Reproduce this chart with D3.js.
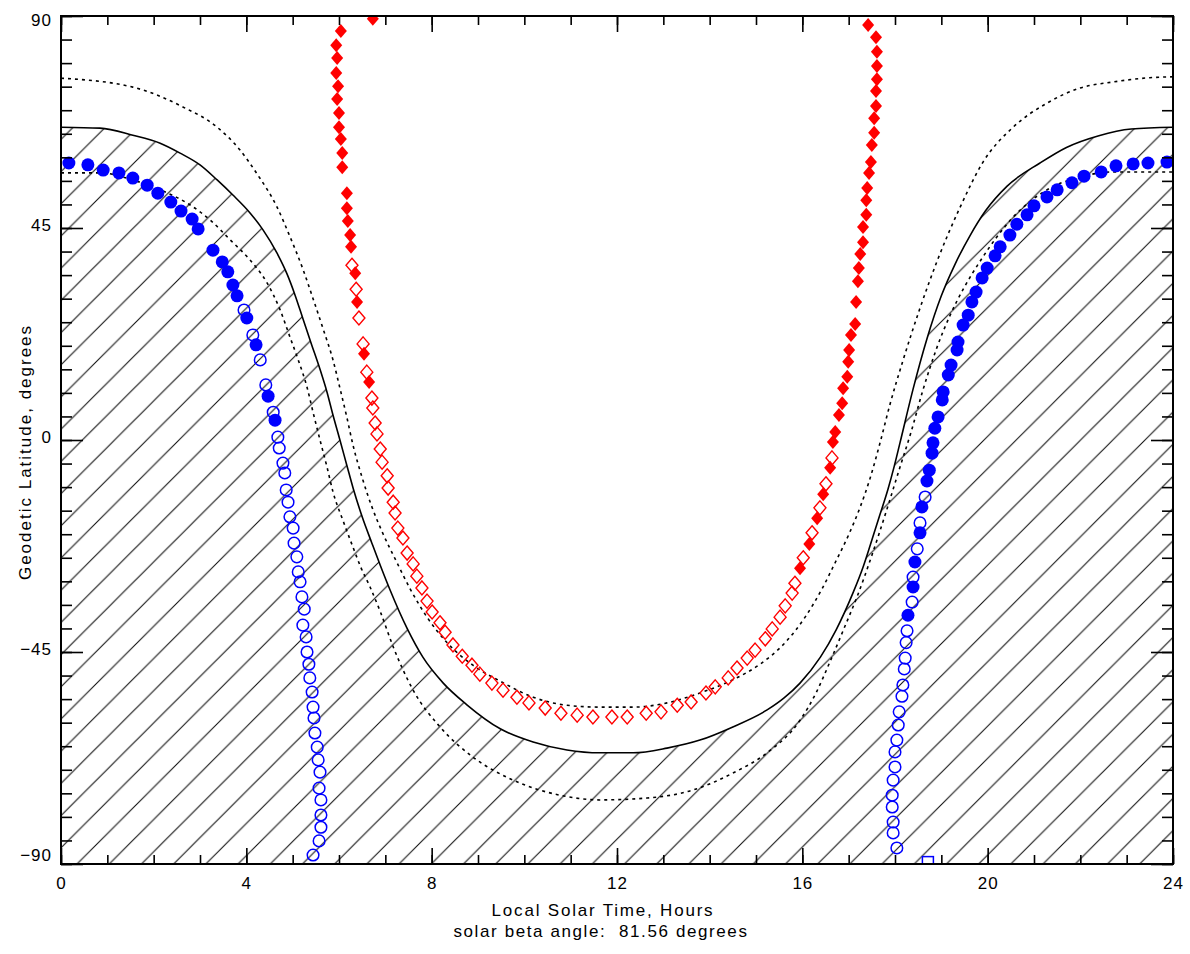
<!DOCTYPE html>
<html>
<head>
<meta charset="utf-8">
<script src="https://cdn.jsdelivr.net/npm/d3@7"></script>
<style>
  body { margin: 0; background: #fff; }
  text { font-family: "Liberation Sans", Arial, sans-serif; fill: #000; }
</style>
</head>
<body>
<script>
// tick values
var hourMajor = [0, 4, 8, 12, 16, 20, 24];
var hourMinor = d3.range(0, 25, 1);
var latMajor = [-90, -45, 0, 45, 90];
var latMinor = d3.range(-90, 91, 5);

// boundary curves, [local solar time, latitude]
var solidCurve = [[0,66.4],[0.84,66.2],[1.55,64.7],[2.14,63.0],[2.57,60.9],[3.0,58.4],[3.37,55.2],[3.71,52.0],[4.08,48.2],[4.36,44.6],[4.66,39.7],[4.88,35.2],[5.05,30.8],[5.22,25.8],[5.40,20.5],[5.59,15.0],[5.74,10.2],[5.87,5.3],[6.02,0.0],[6.17,-5.4],[6.31,-10.4],[6.50,-16.3],[6.71,-21.9],[6.89,-26.6],[7.10,-31.8],[7.47,-40.0],[7.81,-46.1],[8.25,-51.6],[8.76,-56.2],[9.48,-61.3],[10.19,-64.1],[10.92,-65.8],[11.63,-66.4],[12.35,-66.4],[13.08,-65.4],[13.79,-63.7],[14.50,-60.9],[15.24,-57.3],[15.60,-54.8],[15.95,-51.6],[16.39,-46.1],[16.73,-40.3],[17.10,-32.3],[17.31,-27.0],[17.47,-22.2],[17.66,-16.3],[17.85,-10.4],[17.98,-5.7],[18.11,-0.5],[18.39,10.8],[18.69,21.5],[19.00,30.6],[19.30,37.4],[19.62,43.4],[19.95,48.6],[20.42,53.9],[21.13,58.8],[21.70,62.1],[22.40,64.6],[23.10,66.0],[24,66.4]];

var dottedOuter = [[0,76.8],[1.55,74.9],[2.63,70.7],[3.37,66.4],[3.86,61.6],[4.23,56.5],[4.66,49.5],[4.94,43.2],[5.22,36.3],[5.44,30.0],[5.66,23.5],[5.87,17.0],[6.02,11.0],[6.17,4.8],[6.30,-1.0],[6.50,-8.0],[6.71,-14.2],[6.95,-19.9],[7.25,-26.0],[7.53,-31.5],[7.90,-37.6],[8.33,-43.0],[8.89,-47.8],[9.48,-51.2],[10.19,-54.6],[10.92,-56.3],[11.63,-56.7],[12.35,-56.7],[13.08,-55.8],[13.79,-53.7],[14.50,-50.9],[15.10,-47.5],[15.63,-43.0],[16.06,-37.6],[16.43,-31.5],[16.71,-26.0],[17.01,-19.9],[17.25,-14.2],[17.46,-8.2],[17.68,-0.5],[17.89,7.5],[18.17,16.8],[18.54,28.0],[18.91,38.0],[19.40,49.3],[19.90,59.0],[20.55,66.4],[21.28,71.5],[21.99,74.7],[22.71,76.0],[23.5,76.9],[24,77.1]];

var dottedInner = [[0,56.7],[0.84,56.7],[1.55,55.2],[2.14,53.1],[2.72,50.3],[3.22,46.7],[3.65,42.5],[4.08,38.2],[4.45,33.3],[4.73,27.6],[4.94,21.9],[5.12,17.0],[5.31,11.2],[5.44,5.9],[5.59,0.0],[5.74,-5.7],[5.87,-11.0],[6.09,-17.2],[6.30,-22.7],[6.47,-27.0],[6.67,-31.2],[6.89,-36.4],[7.17,-43.9],[7.60,-53.1],[8.18,-60.9],[8.89,-67.3],[9.76,-72.2],[10.77,-75.4],[11.63,-76.4],[12.65,-76.0],[13.64,-74.3],[14.50,-70.7],[15.24,-66.4],[15.95,-59.5],[16.30,-53.6],[16.60,-47.0],[16.90,-40.0],[17.20,-32.8],[17.50,-24.5],[17.80,-15.5],[18.10,-6.0],[18.35,1.8],[18.60,10.5],[18.90,19.5],[19.19,26.5],[19.50,32.5],[19.84,38.0],[20.55,47.3],[21.28,53.1],[21.99,55.8],[22.71,56.9],[24,56.9]];

// red diamonds
var redFilled = [[6.73,89.4],[6.04,86.8],[5.94,83.8],[5.96,81.1],[5.94,77.9],[5.98,75.1],[5.96,72.4],[6.00,69.4],[6.00,66.4],[6.04,63.9],[6.07,60.9],[6.07,57.9],[6.17,52.4],[6.17,49.2],[6.19,46.5],[6.24,43.5],[6.26,41.0],[6.35,35.4],[6.39,29.3],[6.54,18.3],[6.65,12.3],
  [15.95,-27.2],[16.15,-22.1],[16.32,-16.6],[16.45,-11.5],[16.60,-5.9],[16.66,-0.4],[16.71,1.7],[16.79,5.3],[16.86,7.8],[16.88,11.0],[16.97,13.4],[16.99,16.6],[17.01,19.1],[17.05,22.3],[17.14,24.6],[17.16,29.3],[17.20,33.7],[17.22,36.5],[17.25,39.5],[17.31,42.0],[17.31,45.2],[17.38,47.8],[17.38,50.9],[17.40,53.5],[17.44,56.7],[17.48,59.0],[17.50,62.6],[17.55,65.2],[17.55,68.3],[17.59,70.9],[17.59,74.1],[17.61,76.6],[17.61,79.4],[17.61,82.4],[17.59,85.5],[17.42,88.1]];

var redOpen = [[6.28,37.1],[6.37,32.0],[6.43,25.9],[6.52,20.4],[6.60,14.4],[6.71,8.9],[6.73,6.8],[6.78,3.6],[6.82,1.3],[6.89,-1.9],[6.93,-4.7],[7.04,-7.6],[7.06,-10.2],[7.17,-13.2],[7.21,-15.5],[7.27,-18.7],[7.38,-20.8],[7.47,-24.0],[7.60,-26.3],[7.68,-28.9],[7.79,-31.4],[7.90,-34.2],[8.01,-36.5],[8.18,-38.8],[8.29,-40.8],[8.46,-43.5],[8.66,-45.9],[8.87,-47.8],[9.04,-49.7],[9.30,-51.6],[9.54,-53.1],[9.84,-54.6],[10.10,-55.8],[10.45,-56.9],[10.79,-58.0],[11.14,-58.4],[11.48,-58.8],[11.89,-58.8],[12.22,-58.8],[12.63,-58.0],[12.95,-57.7],[13.30,-56.3],[13.60,-55.6],[13.92,-53.7],[14.12,-52.4],[14.40,-50.5],[14.59,-48.4],[14.81,-46.3],[14.98,-44.6],[15.20,-42.2],[15.35,-40.1],[15.52,-37.6],[15.63,-35.2],[15.78,-32.5],[15.84,-30.4],[16.02,-25.0],[16.21,-19.7],[16.38,-14.4],[16.51,-9.3],[16.64,-3.8]];

// blue circles
var blueFilled = [[0.17,58.8],[0.58,58.4],[0.91,57.3],[1.25,56.7],[1.55,55.6],[1.86,54.1],[2.09,52.4],[2.37,50.5],[2.59,48.6],[2.83,46.9],[2.96,44.8],[3.28,40.3],[3.48,37.8],[3.60,35.7],[3.71,32.9],[3.80,30.6],[4.01,25.9],[4.21,20.2],[4.47,9.3],[4.62,4.2],
  [23.87,59.0],[23.46,58.8],[23.14,58.6],[22.77,58.2],[22.45,56.9],[22.08,56.0],[21.82,54.6],[21.50,53.1],[21.28,51.6],[21.00,49.7],[20.85,47.8],[20.63,45.8],[20.48,43.5],[20.27,41.0],[20.16,39.1],[19.99,36.5],[19.88,34.4],[19.75,31.4],[19.66,29.3],[19.58,26.5],[19.47,24.4],[19.36,20.8],[19.34,19.1],[19.21,15.9],[19.15,13.8],[19.04,10.2],[19.02,8.5],[18.93,4.9],[18.86,2.5],[18.82,-0.6],[18.80,-2.8],[18.74,-6.4],[18.69,-8.7],[18.58,-14.2],[18.54,-19.7],[18.43,-25.9],[18.39,-31.2],[18.28,-37.2]];

var blueOpen = [[3.95,27.6],[4.14,22.3],[4.30,17.0],[4.42,11.7],[4.58,5.9],[4.68,0.6],[4.71,-1.7],[4.79,-4.9],[4.83,-7.0],[4.86,-10.6],[4.90,-13.2],[4.94,-16.3],[5.01,-18.7],[5.03,-21.9],[5.09,-24.8],[5.12,-28.0],[5.16,-30.1],[5.20,-33.3],[5.25,-35.9],[5.22,-39.3],[5.29,-41.8],[5.31,-45.0],[5.35,-47.6],[5.37,-50.5],[5.42,-53.5],[5.44,-56.7],[5.46,-59.0],[5.48,-62.2],[5.53,-65.2],[5.55,-67.9],[5.59,-70.5],[5.57,-73.9],[5.61,-76.4],[5.61,-79.6],[5.61,-82.2],[5.57,-85.1],[5.44,-88.1],
  [18.65,-12.1],[18.54,-17.6],[18.48,-23.1],[18.39,-29.1],[18.37,-34.4],[18.26,-40.5],[18.24,-43.0],[18.22,-46.3],[18.20,-48.6],[18.17,-52.0],[18.15,-54.4],[18.09,-57.7],[18.07,-60.5],[18.04,-63.7],[18.00,-66.2],[18.00,-69.4],[17.96,-72.2],[17.94,-75.4],[17.94,-77.9],[17.96,-81.1],[17.96,-83.4],[18.04,-86.6]];

var blueSquare = [[18.71,-89.6]];

var w = 1190;
var h = 954;
var padL = 61, padR = 1173, padT = 16, padB = 864;

var x = d3.scaleLinear().domain([0, 24]).range([padL, padR]);
var y = d3.scaleLinear().domain([-90, 90]).range([padB, padT]);

var svg = d3.select("body").append("svg").attr("width", w).attr("height", h);
var defs = svg.append("defs");

var step = 32.2;
var pat = defs.append("pattern")
    .attr("id", "hatch")
    .attr("patternUnits", "userSpaceOnUse")
    .attr("x", 7.2).attr("y", 0)
    .attr("width", step).attr("height", step);
pat.append("path")
    .attr("d", "M0," + step + "L" + step + ",0M-5,5L5,-5M" + (step - 5) + "," + (step + 5) + "L" + (step + 5) + "," + (step - 5))
    .attr("stroke", "#111").attr("stroke-width", 1.1);

defs.append("clipPath").attr("id", "plotClip")
    .append("rect")
    .attr("x", padL).attr("y", padT)
    .attr("width", padR - padL).attr("height", padB - padT);

var plot = svg.append("g").attr("clip-path", "url(#plotClip)");

// shaded (night) region under the solid curve
var area = d3.area()
    .x(function (d) { return x(d[0]); })
    .y0(y(-90))
    .y1(function (d) { return y(d[1]); })
    .curve(d3.curveMonotoneX);
plot.append("path").datum(solidCurve)
    .attr("d", area)
    .attr("fill", "url(#hatch)");

var line = d3.line()
    .x(function (d) { return x(d[0]); })
    .y(function (d) { return y(d[1]); })
    .curve(d3.curveMonotoneX);

plot.append("path").datum(solidCurve)
    .attr("d", line).attr("fill", "none")
    .attr("stroke", "#000").attr("stroke-width", 1.6);

[dottedOuter, dottedInner].forEach(function (c) {
    plot.append("path").datum(c)
        .attr("d", line).attr("fill", "none")
        .attr("stroke", "#000").attr("stroke-width", 1.6)
        .attr("stroke-dasharray", "3,4");
});

var diamond = "M0,-7L6,0L0,7L-6,0Z";

plot.selectAll(".rf").data(redFilled).enter().append("path")
    .attr("d", diamond)
    .attr("transform", function (d) { return "translate(" + x(d[0]) + "," + y(d[1]) + ")"; })
    .attr("fill", "#ff0000");

plot.selectAll(".ro").data(redOpen).enter().append("path")
    .attr("d", diamond)
    .attr("transform", function (d) { return "translate(" + x(d[0]) + "," + y(d[1]) + ")"; })
    .attr("fill", "none").attr("stroke", "#ff0000").attr("stroke-width", 1.4);

plot.selectAll(".bf").data(blueFilled).enter().append("circle")
    .attr("cx", function (d) { return x(d[0]); })
    .attr("cy", function (d) { return y(d[1]); })
    .attr("r", 6.5)
    .attr("fill", "#0000ff");

plot.selectAll(".bo").data(blueOpen).enter().append("circle")
    .attr("cx", function (d) { return x(d[0]); })
    .attr("cy", function (d) { return y(d[1]); })
    .attr("r", 5.8)
    .attr("fill", "none").attr("stroke", "#0000ff").attr("stroke-width", 1.5);

plot.selectAll(".bs").data(blueSquare).enter().append("rect")
    .attr("x", function (d) { return x(d[0]) - 5.5; })
    .attr("y", function (d) { return y(d[1]) - 5.5; })
    .attr("width", 11).attr("height", 11)
    .attr("fill", "none").attr("stroke", "#0000ff").attr("stroke-width", 1.5);

// axes: ticks point inward on all four sides
function axis(gen, tx, ty) {
    var g = svg.append("g").attr("transform", "translate(" + tx + "," + ty + ")").call(gen);
    g.select(".domain").remove();
    g.selectAll(".tick line").attr("stroke", "#000").attr("stroke-width", 1.6);
    g.selectAll("text").style("font-size", "17px").style("letter-spacing", "1px");
    return g;
}

axis(d3.axisBottom(x).tickValues(hourMinor).tickSize(-9).tickFormat(""), 0, padB);
axis(d3.axisBottom(x).tickValues(hourMajor).tickSizeInner(-16).tickSizeOuter(0).tickPadding(13).tickFormat(d3.format("d")), 0, padB);
axis(d3.axisTop(x).tickValues(hourMinor).tickSize(-9).tickFormat(""), 0, padT);
axis(d3.axisTop(x).tickValues(hourMajor).tickSize(-16).tickFormat(""), 0, padT);

axis(d3.axisLeft(y).tickValues(latMinor).tickSize(-11).tickFormat(""), padL, 0);
var yl = axis(d3.axisLeft(y).tickValues(latMajor).tickSizeInner(-22).tickSizeOuter(0).tickPadding(9).tickFormat(d3.format("d")), padL, 0);
yl.selectAll("text").attr("dy", function (d) {
    return d === 90 ? "0.53em" : (d === -90 ? "-0.23em" : "0.15em");
});
axis(d3.axisRight(y).tickValues(latMinor).tickSize(-11).tickFormat(""), padR, 0);
axis(d3.axisRight(y).tickValues(latMajor).tickSize(-22).tickFormat(""), padR, 0);

svg.append("rect")
    .attr("x", padL).attr("y", padT)
    .attr("width", padR - padL).attr("height", padB - padT)
    .attr("fill", "none").attr("stroke", "#000").attr("stroke-width", 2);

svg.append("text")
    .attr("x", 603).attr("y", 916)
    .attr("text-anchor", "middle")
    .style("font-size", "17px").style("letter-spacing", "1.8px")
    .text("Local Solar Time, Hours");

svg.append("text")
    .attr("x", 601).attr("y", 937)
    .attr("text-anchor", "middle")
    .style("font-size", "17px").style("letter-spacing", "1.6px")
    .style("white-space", "pre")
    .text("solar beta angle:  81.56 degrees");

svg.append("text")
    .attr("transform", "translate(31,452) rotate(-90)")
    .attr("text-anchor", "middle")
    .style("font-size", "17px").style("letter-spacing", "2px")
    .text("Geodetic Latitude, degrees");
</script>
</body>
</html>
